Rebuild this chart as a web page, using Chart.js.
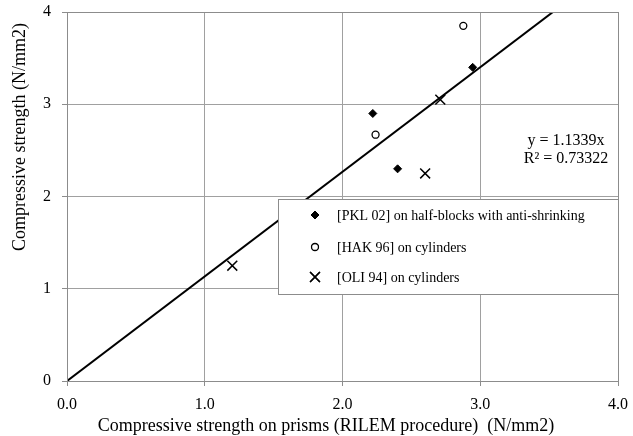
<!DOCTYPE html>
<html>
<head>
<meta charset="utf-8">
<script src="https://cdn.jsdelivr.net/npm/chart.js@4.4.1/dist/chart.umd.min.js"></script>
<style>
  html, body { margin: 0; padding: 0; background: #fff; }
  #wrap { width: 633px; height: 436px; position: relative; }
</style>
</head>
<body>
<div id="wrap"><canvas id="chart" width="633" height="436"></canvas></div>
<script>
// data
const pklX = [2.22, 2.40, 2.945];
const pklY = [2.90, 2.30, 3.40];
const hakX = [2.24, 2.877];
const hakY = [2.67, 3.85];
const oliX = [1.20, 2.60, 2.71];
const oliY = [1.25, 2.25, 3.05];
const seriesNames = [
  '[PKL 02] on half-blocks with anti-shrinking',
  '[HAK 96] on cylinders',
  '[OLI 94] on cylinders'
];
const slope = 1.1339;
const rSquared = '0.73322';
const xTicks = [0, 1, 2, 3, 4];
const yTicks = [0, 1, 2, 3, 4];
const xTitle = 'Compressive strength on prisms (RILEM procedure)  (N/mm2)';
const yTitle = 'Compressive strength (N/mm2)';

const toPoints = (xs, ys) => xs.map((x, i) => ({ x: x, y: ys[i] }));
const trend = [{ x: 0, y: 0 }, { x: 4, y: 4 * slope }];

const serif = 'Liberation Serif';
const gridGray = '#a0a0a0';

// keep the plot box where Excel had it, no auto padding for labels
const noPad = (s) => {
  s.paddingTop = 0; s.paddingBottom = 0;
  s.paddingLeft = 0; s.paddingRight = 0;
};

// legend box, trend equation and axis titles (Excel puts them off-centre)
const extras = {
  id: 'extras',
  afterDraw(chart) {
    const ctx = chart.ctx;
    const a = chart.chartArea;
    ctx.save();
    // plot border
    ctx.strokeStyle = '#8c8c8c';
    ctx.lineWidth = 1;
    ctx.strokeRect(a.left + 0.5, a.top + 0.5, a.right - a.left, a.bottom - a.top);

    // axis titles
    ctx.fillStyle = '#000';
    ctx.font = '18px "' + serif + '"';
    ctx.textAlign = 'center';
    ctx.textBaseline = 'middle';
    ctx.fillText(xTitle, 326, 426);
    ctx.save();
    ctx.translate(20, 137);
    ctx.rotate(-Math.PI / 2);
    ctx.fillText(yTitle, 0, 0);
    ctx.restore();

    // equation
    ctx.font = '16px "' + serif + '"';
    ctx.fillText('y = ' + slope + 'x', 566, 141);
    ctx.fillText('R² = ' + rSquared, 566, 159);

    // legend box
    const bx = 278, by = 199, bw = 340, bh = 95;
    ctx.fillStyle = '#fff';
    ctx.fillRect(bx, by, bw, bh);
    ctx.strokeStyle = '#8c8c8c';
    ctx.strokeRect(bx + 0.5, by + 0.5, bw, bh);

    ctx.font = '14px "' + serif + '"';
    ctx.textAlign = 'left';
    ctx.fillStyle = '#000';
    const rows = [215, 247, 277];
    chart.data.datasets.slice(0, 3).forEach((ds, i) => {
      const y = rows[i];
      Chart.helpers.drawPoint(ctx, {
        pointStyle: ds.pointStyle,
        radius: ds.pointRadius,
        borderWidth: ds.borderWidth,
        rotation: 0
      }, 315, y);
      ctx.fillStyle = ds.backgroundColor;
      ctx.strokeStyle = ds.borderColor;
      ctx.lineWidth = ds.borderWidth;
      if (ds.pointStyle !== 'crossRot') ctx.fill();
      ctx.stroke();
      ctx.fillStyle = '#000';
      ctx.fillText(ds.label, 337, y + 1);
    });
    ctx.restore();
  }
};

new Chart(document.getElementById('chart'), {
  type: 'scatter',
  data: {
    datasets: [
      {
        label: seriesNames[0],
        data: toPoints(pklX, pklY),
        pointStyle: 'rectRot',
        pointRadius: 4,
        backgroundColor: '#000',
        borderColor: '#000',
        borderWidth: 1
      },
      {
        label: seriesNames[1],
        data: toPoints(hakX, hakY),
        pointStyle: 'circle',
        pointRadius: 3.5,
        backgroundColor: '#fff',
        borderColor: '#000',
        borderWidth: 1.3
      },
      {
        label: seriesNames[2],
        data: toPoints(oliX, oliY),
        pointStyle: 'crossRot',
        pointRadius: 7,
        backgroundColor: '#000',
        borderColor: '#000',
        borderWidth: 1.5
      },
      {
        label: 'trend',
        type: 'line',
        data: trend,
        borderColor: '#000',
        borderWidth: 2,
        pointRadius: 0,
        fill: false
      }
    ]
  },
  options: {
    responsive: false,
    animation: false,
    layout: { padding: { left: 0, right: 15, top: 12, bottom: 0 } },
    plugins: {
      legend: { display: false },
      tooltip: { enabled: false }
    },
    scales: {
      x: {
        type: 'linear',
        min: 0,
        max: 4,
        afterBuildTicks: (s) => { s.ticks = xTicks.map(v => ({ value: v })); },
        afterFit: (s) => { s.height = 55; noPad(s); },
        ticks: {
          callback: (v) => v.toFixed(1),
          color: '#000',
          font: { family: serif, size: 16 },
          padding: 9,
          maxRotation: 0
        },
        grid: { color: gridGray, tickLength: 5, tickColor: '#8c8c8c' },
        border: { color: '#8c8c8c' }
      },
      y: {
        type: 'linear',
        min: 0,
        max: 4,
        afterBuildTicks: (s) => { s.ticks = yTicks.map(v => ({ value: v })); },
        afterFit: (s) => { s.width = 67; noPad(s); },
        ticks: {
          callback: (v) => String(v),
          color: '#000',
          font: { family: serif, size: 16 },
          padding: 11
        },
        grid: { color: gridGray, tickLength: 5, tickColor: '#8c8c8c' },
        border: { color: '#8c8c8c' }
      }
    }
  },
  plugins: [extras]
});
</script>
</body>
</html>
